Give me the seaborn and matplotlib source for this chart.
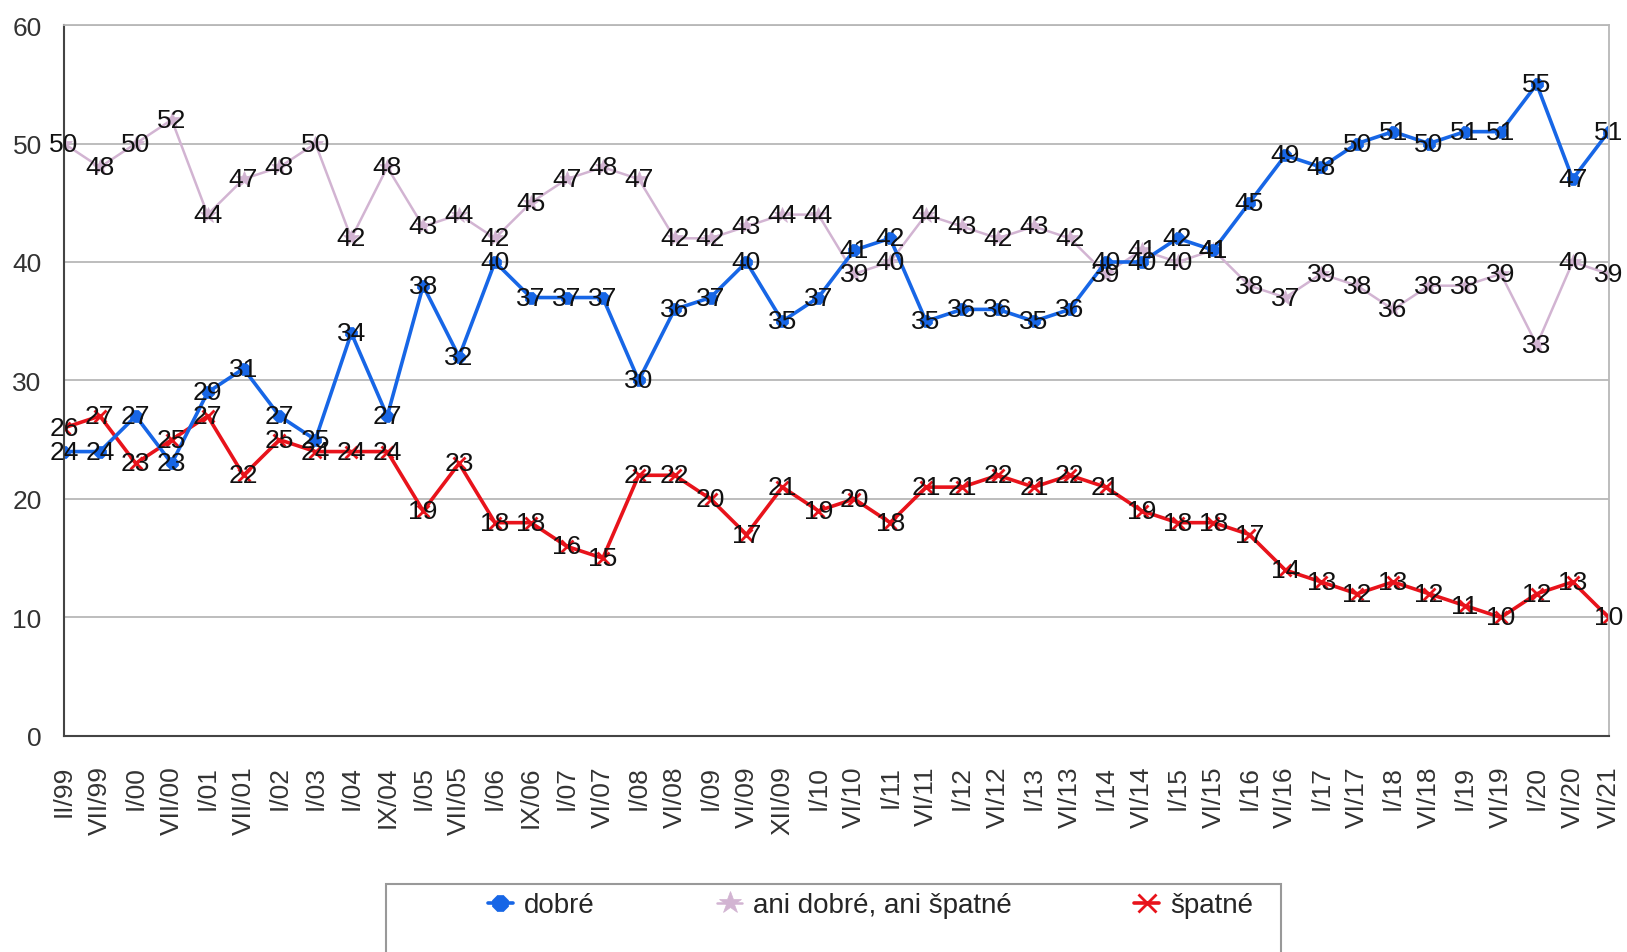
"""
Hodnocení situace 1999-2021: dobré / ani dobré, ani špatné / špatné
"""

import numpy as np
import pandas as pd
import matplotlib
matplotlib.use('Agg')
import matplotlib.pyplot as plt
import seaborn as sns
from matplotlib.patches import Rectangle

# Období (osa x)
periods = ['II/99', 'VII/99', 'I/00', 'VII/00', 'I/01', 'VII/01', 'I/02', 'I/03',
           'I/04', 'IX/04', 'I/05', 'VII/05', 'I/06', 'IX/06', 'I/07', 'VI/07',
           'I/08', 'VI/08', 'I/09', 'VI/09', 'XII/09', 'I/10', 'VI/10', 'I/11',
           'VI/11', 'I/12', 'VI/12', 'I/13', 'VI/13', 'I/14', 'VI/14', 'I/15',
           'VI/15', 'I/16', 'VI/16', 'I/17', 'VI/17', 'I/18', 'VI/18', 'I/19',
           'VI/19', 'I/20', 'VI/20', 'VI/21']

dobre = [24, 24, 27, 23, 29, 31, 27, 25, 34, 27, 38, 32, 40, 37, 37, 37,
         30, 36, 37, 40, 35, 37, 41, 42, 35, 36, 36, 35, 36, 40, 40, 42,
         41, 45, 49, 48, 50, 51, 50, 51, 51, 55, 47, 51]

ani = [50, 48, 50, 52, 44, 47, 48, 50, 42, 48, 43, 44, 42, 45, 47, 48,
       47, 42, 42, 43, 44, 44, 39, 40, 44, 43, 42, 43, 42, 39, 41, 40,
       41, 38, 37, 39, 38, 36, 38, 38, 39, 33, 40, 39]

spatne = [26, 27, 23, 25, 27, 22, 25, 24, 24, 24, 19, 23, 18, 18, 16, 15,
          22, 22, 20, 17, 21, 19, 20, 18, 21, 21, 22, 21, 22, 21, 19, 18,
          18, 17, 14, 13, 12, 13, 12, 11, 10, 12, 13, 10]

series_names = ['dobré', 'ani dobré, ani špatné', 'špatné']

FONT = 'Liberation Sans'


def plot_chart():
    sns.set_style('white')
    plt.rcParams['font.family'] = [FONT, 'DejaVu Sans']

    x = np.arange(len(periods))
    df = pd.DataFrame({'x': x, series_names[0]: dobre,
                       series_names[1]: ani, series_names[2]: spatne})

    fig = plt.figure(figsize=(16.27, 9.53), dpi=100)
    ax = fig.add_axes([0.0393, 0.2267, 0.9494, 0.746])

    # Čáry (seaborn dává markerům bílý okraj, proto mec zvlášť)
    styles = {
        'dobré': dict(color='#1766e6', marker='8', markersize=9, linewidth=2.6,
                      markeredgewidth=0.5, markeredgecolor='#1766e6'),
        'ani dobré, ani špatné': dict(color='#d2b4d2', marker='*', markersize=12,
                                      linewidth=1.8, markeredgewidth=0.5,
                                      markeredgecolor='#d2b4d2'),
        'špatné': dict(color='#e8131b', marker='x', markersize=9, linewidth=2.6,
                       markeredgewidth=2, markeredgecolor='#e8131b'),
    }
    for name in [series_names[1], series_names[2], series_names[0]]:
        sns.lineplot(data=df, x='x', y=name, ax=ax, label=name, **styles[name])

    # Popisky hodnot
    for name in series_names:
        for xi, v in zip(x, df[name]):
            ax.text(xi, v, str(v), ha='center', va='center', fontsize=19,
                    color='#111111', zorder=5)

    ax.set_xlim(0, len(periods) - 1)
    ax.set_ylim(0, 60)
    ax.set_yticks(range(0, 61, 10))
    ax.set_xticks(x)
    ax.set_xticklabels(periods, rotation=90, ha='center', va='top')
    ax.set_xlabel('')
    ax.set_ylabel('')

    ax.yaxis.grid(True, color='#b8b8b8', linewidth=1.3)
    ax.xaxis.grid(False)
    ax.tick_params(axis='x', length=7, width=1, color='#aaaaaa', pad=14,
                   labelsize=19, labelcolor='#333333')
    ax.tick_params(axis='y', length=7, width=1, color='#aaaaaa', pad=9,
                   labelsize=19, labelcolor='#333333')
    for side in ['left', 'bottom']:
        ax.spines[side].set_color('#444444')
        ax.spines[side].set_linewidth(1.5)
    for side in ['top', 'right']:
        ax.spines[side].set_color('#b8b8b8')
        ax.spines[side].set_linewidth(1.3)

    # Legenda
    handles, labels = ax.get_legend_handles_labels()
    order = [labels.index(n) for n in series_names]
    leg = ax.legend([handles[i] for i in order], [labels[i] for i in order],
                    ncol=3, frameon=False, fontsize=20, loc='center left',
                    bbox_to_anchor=(0.2999, 0.049), bbox_transform=fig.transFigure,
                    handlelength=0.9, handletextpad=0.4, columnspacing=4.4,
                    markerscale=1.4, borderpad=0, borderaxespad=0)
    for h in leg.legend_handles:
        h.set_linestyle('-')
    fig.patches.append(Rectangle((0.2372, -0.02), 0.5501, 0.0914,
                                 transform=fig.transFigure, fill=False,
                                 edgecolor='#999999', linewidth=1.5))

    fig.savefig('out.png', dpi=100)
    plt.close(fig)


if __name__ == '__main__':
    plot_chart()
